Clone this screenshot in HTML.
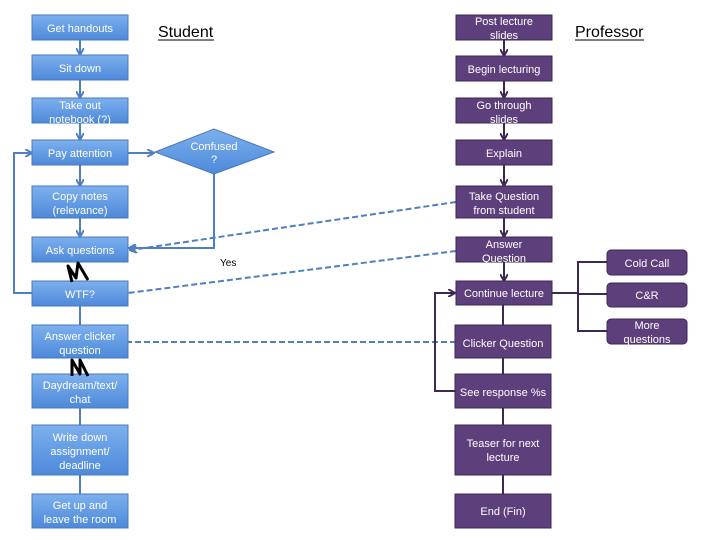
<!DOCTYPE html>
<html><head><meta charset="utf-8"><style>
html,body{margin:0;padding:0;background:#fff;}
svg{display:block;font-family:"Liberation Sans",sans-serif;}
.s{fill:url(#gb);stroke:#4a78b8;stroke-width:1;}
.p{fill:#5d3f7b;stroke:#3d2855;stroke-width:1;}
.t{fill:#fff;font-size:11px;text-anchor:middle;}
.bl{stroke:#4f7fc0;stroke-width:2;fill:none;}
.pl{stroke:#3d2855;stroke-width:2;fill:none;}
.ds{stroke:#4f7fc0;stroke-width:2;fill:none;stroke-dasharray:6,3;}
</style></head><body>
<svg width="720" height="540" viewBox="0 0 720 540">
<defs>
<linearGradient id="gb" x1="0" y1="0" x2="0" y2="1"><stop offset="0" stop-color="#7db0ee"/><stop offset="1" stop-color="#4d89da"/></linearGradient>
<linearGradient id="gd" x1="0" y1="0" x2="0" y2="1"><stop offset="0" stop-color="#7db0ee"/><stop offset="1" stop-color="#4d89da"/></linearGradient>
<marker id="ab" markerWidth="8" markerHeight="8" refX="6" refY="4" orient="auto" markerUnits="userSpaceOnUse"><path d="M0,0 L7,4 L0,8" fill="none" stroke="#4f7fc0" stroke-width="2"/></marker>
<marker id="ap" markerWidth="8" markerHeight="8" refX="6" refY="4" orient="auto" markerUnits="userSpaceOnUse"><path d="M0,0 L7,4 L0,8" fill="none" stroke="#3d2855" stroke-width="2"/></marker>
</defs>

<line class="bl" x1="80" y1="40" x2="80" y2="54" marker-end="url(#ab)"/>
<line class="bl" x1="80" y1="80" x2="80" y2="97" marker-end="url(#ab)"/>
<line class="bl" x1="80" y1="123" x2="80" y2="139" marker-end="url(#ab)"/>
<line class="bl" x1="80" y1="165" x2="80" y2="185" marker-end="url(#ab)"/>
<line class="bl" x1="80" y1="218" x2="80" y2="236" marker-end="url(#ab)"/>
<line class="bl" x1="128" y1="153" x2="153" y2="153" marker-end="url(#ab)"/>
<polyline class="bl" points="214,174 214,248 130,248" marker-end="url(#ab)"/>
<polyline class="bl" points="32,293 14,293 14,153 31,153" marker-end="url(#ab)"/>
<line class="bl" x1="80" y1="306" x2="80" y2="325"/>
<line class="bl" x1="80" y1="408" x2="80" y2="425"/>
<line class="bl" x1="80" y1="475" x2="80" y2="494"/>

<line class="ds" x1="456" y1="202" x2="131" y2="250" marker-end="url(#ab)"/>
<line class="ds" x1="456" y1="251" x2="128" y2="293"/>
<line class="ds" x1="456" y1="342" x2="128" y2="342"/>

<line class="pl" x1="504" y1="40" x2="504" y2="55" marker-end="url(#ap)"/>
<line class="pl" x1="504" y1="81" x2="504" y2="97" marker-end="url(#ap)"/>
<line class="pl" x1="504" y1="123" x2="504" y2="139" marker-end="url(#ap)"/>
<line class="pl" x1="504" y1="165" x2="504" y2="185" marker-end="url(#ap)"/>
<line class="pl" x1="504" y1="218" x2="504" y2="236" marker-end="url(#ap)"/>
<line class="pl" x1="504" y1="262" x2="504" y2="280" marker-end="url(#ap)"/>
<line class="pl" x1="503" y1="305" x2="503" y2="325"/>
<line class="pl" x1="503" y1="358" x2="503" y2="374"/>
<line class="pl" x1="503" y1="408" x2="503" y2="425"/>
<line class="pl" x1="503" y1="475" x2="503" y2="494"/>
<polyline class="pl" points="456,391 435,391 435,293 454,293" marker-end="url(#ap)"/>
<line class="pl" x1="552" y1="293" x2="578" y2="293"/>
<polyline class="pl" points="607,262 578,262 578,331 607,331"/>
<line class="pl" x1="578" y1="294" x2="607" y2="294"/>

<rect class="s" x="32" y="15" width="96" height="25"/><text class="t" x="80" y="32">Get handouts</text>
<rect class="s" x="32" y="55" width="96" height="25"/><text class="t" x="80" y="72">Sit down</text>
<rect class="s" x="32" y="98" width="96" height="25"/><text class="t" x="80" y="109">Take out</text><text class="t" x="80" y="123">notebook (?)</text>
<rect class="s" x="32" y="140" width="96" height="25"/><text class="t" x="80" y="157">Pay attention</text>
<rect class="s" x="32" y="186" width="96" height="32"/><text class="t" x="80" y="200">Copy notes</text><text class="t" x="80" y="214">(relevance)</text>
<rect class="s" x="32" y="237" width="96" height="25"/><text class="t" x="80" y="254">Ask questions</text>
<rect class="s" x="32" y="281" width="96" height="25"/><text class="t" x="80" y="298">WTF?</text>
<rect class="s" x="32" y="325" width="96" height="33"/><text class="t" x="80" y="340">Answer clicker</text><text class="t" x="80" y="354">question</text>
<rect class="s" x="32" y="374" width="96" height="34"/><text class="t" x="80" y="389">Daydream/text/</text><text class="t" x="80" y="403">chat</text>
<rect class="s" x="32" y="425" width="96" height="50"/><text class="t" x="80" y="441">Write down</text><text class="t" x="80" y="455">assignment/</text><text class="t" x="80" y="469">deadline</text>
<rect class="s" x="32" y="494" width="96" height="34"/><text class="t" x="80" y="509">Get up and</text><text class="t" x="80" y="523">leave the room</text>

<polygon points="155,152 214,129 274,152 214,174" fill="url(#gd)" stroke="#4a78b8"/>
<text class="t" x="214" y="150">Confused</text><text class="t" x="214" y="163">?</text>
<text x="220" y="266" font-size="10" fill="#000">Yes</text>

<path d="M72,282 L68,266 L76,278 L78,263 L88,280" fill="none" stroke="#000" stroke-width="3" stroke-linejoin="round"/>
<path d="M72,376 L72,360 L80,374 L80,360 L88,376" fill="none" stroke="#000" stroke-width="3" stroke-linejoin="round"/>

<text x="158" y="37" font-size="16" fill="#000">Student</text>
<line x1="158" y1="40" x2="214" y2="40" stroke="#000" stroke-width="1"/>
<text x="575" y="37" font-size="16" fill="#000">Professor</text>
<line x1="575" y1="40" x2="644" y2="40" stroke="#000" stroke-width="1"/>

<rect class="p" x="456" y="15" width="96" height="25"/><text class="t" x="504" y="25">Post lecture</text><text class="t" x="504" y="39">slides</text>
<rect class="p" x="456" y="56" width="96" height="25"/><text class="t" x="504" y="73">Begin lecturing</text>
<rect class="p" x="456" y="98" width="96" height="25"/><text class="t" x="504" y="109">Go through</text><text class="t" x="504" y="123">slides</text>
<rect class="p" x="456" y="140" width="96" height="25"/><text class="t" x="504" y="157">Explain</text>
<rect class="p" x="456" y="186" width="96" height="32"/><text class="t" x="504" y="200">Take Question</text><text class="t" x="504" y="214">from student</text>
<rect class="p" x="456" y="237" width="96" height="25"/><text class="t" x="504" y="248">Answer</text><text class="t" x="504" y="262">Question</text>
<rect class="p" x="456" y="281" width="96" height="24"/><text class="t" x="504" y="297">Continue lecture</text>
<rect class="p" x="455" y="325" width="96" height="33"/><text class="t" x="503" y="347">Clicker Question</text>
<rect class="p" x="455" y="374" width="96" height="34"/><text class="t" x="503" y="396">See response %s</text>
<rect class="p" x="455" y="425" width="96" height="50"/><text class="t" x="503" y="447">Teaser for next</text><text class="t" x="503" y="461">lecture</text>
<rect class="p" x="455" y="494" width="96" height="34"/><text class="t" x="503" y="515">End (Fin)</text>

<rect class="p" x="607" y="250" width="80" height="25" rx="4"/><text class="t" x="647" y="267">Cold Call</text>
<rect class="p" x="607" y="283" width="80" height="24" rx="4"/><text class="t" x="647" y="299">C&amp;R</text>
<rect class="p" x="607" y="319" width="80" height="25" rx="4"/><text class="t" x="647" y="329">More</text><text class="t" x="647" y="343">questions</text>
</svg>
</body></html>
